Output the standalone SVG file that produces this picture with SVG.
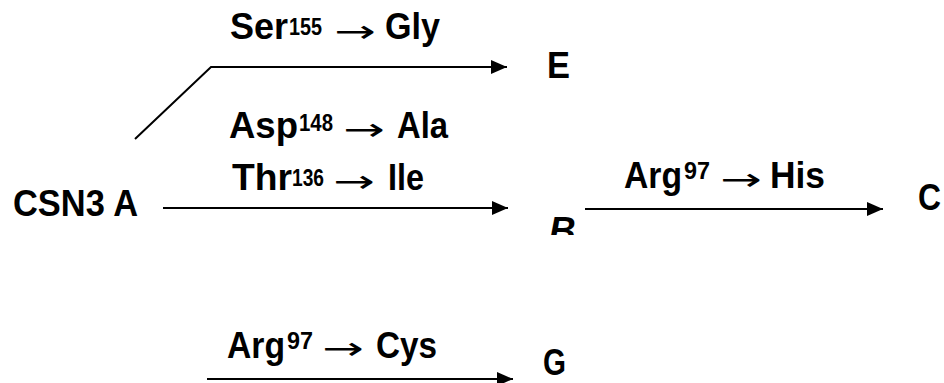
<svg xmlns="http://www.w3.org/2000/svg" width="944" height="383" viewBox="0 0 944 383">
  <style>
    .node { font-family: "Liberation Sans", Arial, sans-serif; font-weight: bold; font-size: 37px; fill: #000; }
    .lbl { font-family: "Liberation Sans", Arial, sans-serif; font-weight: bold; font-size: 36px; fill: #000; }
    .sup { font-size: 24px; }
    .arr { font-family: "DejaVu Sans", sans-serif; font-weight: normal; font-size: 31px; fill: #000; }
    .edge { fill: none; stroke: #000; stroke-width: 2; }
  </style>
  <defs>
    <marker id="head" markerUnits="userSpaceOnUse" viewBox="0 0 16 14" markerWidth="16" markerHeight="14" refX="16" refY="7" orient="auto">
      <path d="M0,0 L16,7 L0,14 z" fill="#000"/>
    </marker>
    <clipPath id="clipB">
      <rect x="540" y="200" width="50" height="35"/>
    </clipPath>
  </defs>
  <rect width="944" height="383" fill="#fff"/>

  <!-- connectors -->
  <g id="connectors">
    <path class="edge" d="M135,139 L211,67 L507,67" marker-end="url(#head)"/>
    <path class="edge" d="M163,208 L508,208" marker-end="url(#head)"/>
    <path class="edge" d="M585,209 L883,209" marker-end="url(#head)"/>
    <path class="edge" d="M207,379 L513,379" marker-end="url(#head)"/>
  </g>

  <!-- mutation labels: residue, position, arrow, new residue -->
  <g id="label-ser155gly">
    <text class="lbl" x="230" y="39" textLength="58" lengthAdjust="spacingAndGlyphs">Ser</text>
    <text class="lbl sup" x="289" y="35" textLength="33" lengthAdjust="spacingAndGlyphs">155</text>
    <text class="arr" transform="translate(334,42) scale(1.6,1)">→</text>
    <text class="lbl" x="385" y="39" textLength="55" lengthAdjust="spacingAndGlyphs">Gly</text>
  </g>
  <g id="label-asp148ala">
    <text class="lbl" x="229" y="138" textLength="69" lengthAdjust="spacingAndGlyphs">Asp</text>
    <text class="lbl sup" x="299" y="131" textLength="34" lengthAdjust="spacingAndGlyphs">148</text>
    <text class="arr" transform="translate(343,140) scale(1.6,1)">→</text>
    <text class="lbl" x="397" y="138" textLength="51" lengthAdjust="spacingAndGlyphs">Ala</text>
  </g>
  <g id="label-thr136ile">
    <text class="lbl" x="232" y="190" textLength="60" lengthAdjust="spacingAndGlyphs">Thr</text>
    <text class="lbl sup" x="292" y="186" textLength="32" lengthAdjust="spacingAndGlyphs">136</text>
    <text class="arr" transform="translate(333,192) scale(1.6,1)">→</text>
    <text class="lbl" x="388" y="190" textLength="36" lengthAdjust="spacingAndGlyphs">Ile</text>
  </g>
  <g id="label-arg97his">
    <text class="lbl" x="624" y="188" textLength="58" lengthAdjust="spacingAndGlyphs">Arg</text>
    <text class="lbl sup" x="684" y="179" textLength="26" lengthAdjust="spacingAndGlyphs">97</text>
    <text class="arr" transform="translate(720,190) scale(1.6,1)">→</text>
    <text class="lbl" x="770" y="188" textLength="55" lengthAdjust="spacingAndGlyphs">His</text>
  </g>
  <g id="label-arg97cys">
    <text class="lbl" x="227" y="358" textLength="58" lengthAdjust="spacingAndGlyphs">Arg</text>
    <text class="lbl sup" x="287" y="349" textLength="26" lengthAdjust="spacingAndGlyphs">97</text>
    <text class="arr" transform="translate(322,359) scale(1.6,1)">→</text>
    <text class="lbl" x="376" y="358" textLength="61" lengthAdjust="spacingAndGlyphs">Cys</text>
  </g>

  <!-- nodes -->
  <g id="node-A"><text class="node" x="13" y="216" textLength="125" lengthAdjust="spacingAndGlyphs">CSN3 A</text></g>
  <g id="node-E"><text class="node" x="547" y="78" textLength="23" lengthAdjust="spacingAndGlyphs">E</text></g>
  <g id="node-B" clip-path="url(#clipB)"><text class="node" x="549" y="243" font-style="italic" font-size="36">B</text></g>
  <g id="node-C"><text class="node" x="918" y="210" textLength="23" lengthAdjust="spacingAndGlyphs">C</text></g>
  <g id="node-G"><text class="node" x="543" y="375" textLength="23" lengthAdjust="spacingAndGlyphs">G</text></g>
</svg>
